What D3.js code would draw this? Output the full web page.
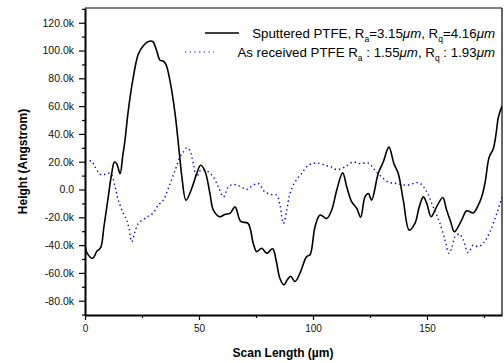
<!DOCTYPE html>
<html>
<head>
<meta charset="utf-8">
<script src="https://cdn.jsdelivr.net/npm/d3@7"></script>
<style>
  body { margin: 0; background: #fff; }
  text { font-family: "Liberation Sans", Arial, sans-serif; }
</style>
</head>
<body>
<svg id="chart" width="504" height="363"></svg>
<script>

// scan length (um) and height (thousands of Angstrom)
var sputX = [0, 1.0, 3.4, 5.1, 6.9, 8.3, 10.2, 11.7, 12.9, 13.9, 15.4, 16.5, 17.5, 19.0, 21.2, 23.4,
	25.6, 27.8, 29.7, 31.4, 32.9, 34.3, 35.5, 37.3, 39.5, 41.7, 42.5, 44.3, 46.8, 49.0, 50.7, 52.6,
	54.8, 56.3, 59.2, 61.4, 63.6, 65.8, 68.3, 71.5, 73.8, 75.3, 77.5, 79.7, 82.3, 83.8, 85.5, 87.3,
	88.7, 90.2, 92.1, 94.3, 97.2, 98.7, 100.9, 103.1, 106.0, 108.2, 110.4, 113.0, 114.8, 117.0, 119.2,
	120.9, 122.8, 124.3, 125.7, 128.6, 130.8, 133.3, 135.5, 137.4, 139.6, 142.2, 144.7, 146.6, 148.4,
	149.9, 151.8, 154.2, 156.9, 158.6, 160.4, 162.0, 165.2, 167.4, 170.3, 172.5, 174.0, 175.4, 177.3,
	179.1, 180.3, 181.3, 182.9];
var sputY = [-40, -46, -49.5, -44.7, -41.6, -26.8, -5.3, 11.5, 19.8, 18.6, 11.5, 23.4, 35, 57, 81, 97.5,
	103.5, 106.5, 106.5, 100, 93, 92.5, 90, 78, 54.6, 21, 9, -7.7, 0.7, 11.5, 17.4, 13.3,
	-2.9, -14.8, -19.6, -17.9, -17.2, -12.5, -23, -24.4, -38.7, -44.7, -42.3, -45.9, -42.6, -50.7, -64, -68.6,
	-65, -62.4, -66.2, -60.2, -48.3, -47, -26.8, -18.4, -20.8, -14.8, -0.5, 12, 2, -8.9, -13.6,
	-20, -5.3, -2.9, -7.7, 11.5, 19.8, 30.5, 18.6, 11.5, -7.7, -29.2, -24.4, -12.5, -5.3,
	-10, -19.6, -12.5, -5.7, -14.8, -23.2, -30.4, -22, -15.3, -16.8, -11.3, -5.3, 4.3, 23.4,
	29.4, 40, 52, 60];

var recvX = [0, 2.9, 4.4, 7.3, 9.5, 11.3, 13.2, 14.6, 16.8, 18.3, 19.4, 20.5, 21.9, 23.4, 25.6, 27.8,
	30.0, 32.1, 34.3, 36.5, 39.5, 41.7, 43.1, 44.6, 46.0, 47.5, 49.0, 50.7, 53.4, 56.3, 58.5, 60.7,
	62.9, 65.0, 68.0, 70.9, 73.1, 76.0, 78.9, 81.9, 84.1, 85.5, 87.0, 88.5, 89.9, 92.1, 95.0, 97.9,
	101.6, 105.3, 108.2, 110.4, 114.0, 117.7, 120.6, 124.3, 127.2, 130.1, 133.0, 136.7, 141.1, 146.6,
	149.9, 152.1, 154.2, 155.7, 157.9, 159.6, 160.8, 162.3, 164.2, 165.9, 168.1, 170.3, 172.5, 174.7,
	177.6, 180.6, 182.9];
var recvY = [20.5, 20.3, 16.2, 10.3, 11.5, 11.5, 1.9, -7.7, -17.2, -22, -28.7, -37.6, -30.4, -24.4, -21.5, -19.1,
	-16.8, -11.3, -7.7, 0.7, 13.8, 23.4, 27, 30, 28, 18.6, 9, 13.8, 13.3, 9, 1.9, -5.3,
	1.9, 3.6, 2.4, 0, 2.4, 4.3, -1.7, -3.6, -4.1, -11.3, -24.4, -14.8, -2.9, 5.4, 11.5, 17.4,
	19.1, 17.4, 16.2, 14.3, 16.2, 19.8, 18.6, 19, 13.8, 9, 5.4, 4.3, 3.1, 4.8,
	-1.7, -10, -18.4, -24.4, -36.3, -45.9, -42.3, -34, -32, -36.3, -45.4, -40, -41.1, -38.7,
	-30.4, -17.2, -5.3];

var xTicks = [0, 50, 100, 150];
var xMinor = [25, 75, 125, 175];
var yTicks = [-80, -60, -40, -20, 0, 20, 40, 60, 80, 100, 120];
var yMinor = [-90, -70, -50, -30, -10, 10, 30, 50, 70, 90, 110, 130];

var margin = {left: 85, top: 8, right: 502, bottom: 315};
var font = "'Liberation Sans', Arial, sans-serif";

var svg = d3.select("#chart");

var x = d3.scaleLinear().domain([0, 182.9]).range([margin.left, margin.right]);
var y = d3.scaleLinear().domain([-90.3, 130.6]).range([margin.bottom, margin.top]);

// frame
svg.append("line")
	.attr("x1", margin.left).attr("x2", margin.right)
	.attr("y1", margin.top).attr("y2", margin.top)
	.attr("stroke", "#000").attr("stroke-width", 1.2);
svg.append("line")
	.attr("x1", margin.right).attr("x2", margin.right)
	.attr("y1", margin.top).attr("y2", margin.bottom)
	.attr("stroke", "#000").attr("stroke-width", 1.2);

// data lines
svg.append("clipPath").attr("id", "clip")
	.append("rect")
	.attr("x", margin.left).attr("y", margin.top)
	.attr("width", margin.right - margin.left)
	.attr("height", margin.bottom - margin.top);

var line = d3.line()
	.x(function(d) { return x(d[0]); })
	.y(function(d) { return y(d[1]); })
	.curve(d3.curveCatmullRom.alpha(0.5));

svg.append("path")
	.datum(d3.zip(recvX, recvY))
	.attr("clip-path", "url(#clip)")
	.attr("d", line)
	.attr("fill", "none")
	.attr("stroke", "#0000ff")
	.attr("stroke-width", 1.4)
	.attr("stroke-dasharray", "1.4,3");

svg.append("path")
	.datum(d3.zip(sputX, sputY))
	.attr("clip-path", "url(#clip)")
	.attr("d", line)
	.attr("fill", "none")
	.attr("stroke", "#000")
	.attr("stroke-width", 1.6);

// axes
svg.append("g")
	.attr("transform", "translate(0," + margin.bottom + ")")
	.call(d3.axisBottom(x).tickValues(xTicks).tickSize(5).tickSizeOuter(0).tickPadding(5));
svg.append("g")
	.attr("transform", "translate(0," + margin.bottom + ")")
	.call(d3.axisBottom(x).tickValues(xMinor).tickSize(3).tickFormat("").tickSizeOuter(0))
	.select(".domain").remove();

svg.append("g")
	.attr("transform", "translate(" + margin.left + ",0)")
	.call(d3.axisLeft(y).tickValues(yTicks).tickSize(6).tickSizeOuter(0).tickPadding(5)
		.tickFormat(function(d) { return d === 0 ? "0.0" : d.toFixed(1) + "k"; }))
	.selectAll(".tick text").attr("font-size", 10.5);
svg.append("g")
	.attr("transform", "translate(" + margin.left + ",0)")
	.call(d3.axisLeft(y).tickValues(yMinor).tickSize(3).tickFormat("").tickSizeOuter(0))
	.select(".domain").remove();

svg.selectAll(".domain").attr("stroke-width", 2);
svg.selectAll(".tick line").attr("stroke-width", 1.2);
svg.selectAll(".tick text")
	.attr("font-family", font)
	.attr("fill", "#111");

// axis titles
svg.append("text")
	.attr("x", 283).attr("y", 357)
	.attr("text-anchor", "middle")
	.attr("font-size", 12).attr("font-weight", "bold")
	.text("Scan Length (\u00b5m)");

svg.append("text")
	.attr("transform", "translate(27," + ((margin.top + margin.bottom) / 2) + ") rotate(-90)")
	.attr("text-anchor", "middle")
	.attr("font-size", 12).attr("font-weight", "bold")
	.text("Height (Angstrom)");

// legend
function legendText(yPos, parts) {
	var t = svg.append("text")
		.attr("x", 495).attr("y", yPos)
		.attr("text-anchor", "end")
		.attr("font-size", 13.3);
	parts.forEach(function(p) {
		var s = t.append("tspan").text(p.t);
		if (p.sub) s.attr("font-size", 8.5).attr("dy", 4);
		if (p.up) s.attr("dy", -4);
		if (p.it) s.attr("font-style", "italic");
	});
}

svg.append("line")
	.attr("x1", 205).attr("x2", 239).attr("y1", 33).attr("y2", 33)
	.attr("stroke", "#000").attr("stroke-width", 1.6);
legendText(38, [
	{t: "Sputtered PTFE, R"}, {t: "a", sub: true}, {t: "=3.15", up: true}, {t: "\u03bcm", it: true},
	{t: ", R"}, {t: "q", sub: true}, {t: "=4.16", up: true}, {t: "\u03bcm", it: true}
]);

svg.append("line")
	.attr("x1", 185).attr("x2", 214).attr("y1", 52).attr("y2", 52)
	.attr("stroke", "#0000ff").attr("stroke-width", 1.2)
	.attr("stroke-dasharray", "1.2,3.5");
legendText(57, [
	{t: "As received PTFE R"}, {t: "a", sub: true}, {t: " : 1.55", up: true}, {t: "\u03bcm", it: true},
	{t: ", R"}, {t: "q", sub: true}, {t: " : 1.93", up: true}, {t: "\u03bcm", it: true}
]);

</script>
</body>
</html>
